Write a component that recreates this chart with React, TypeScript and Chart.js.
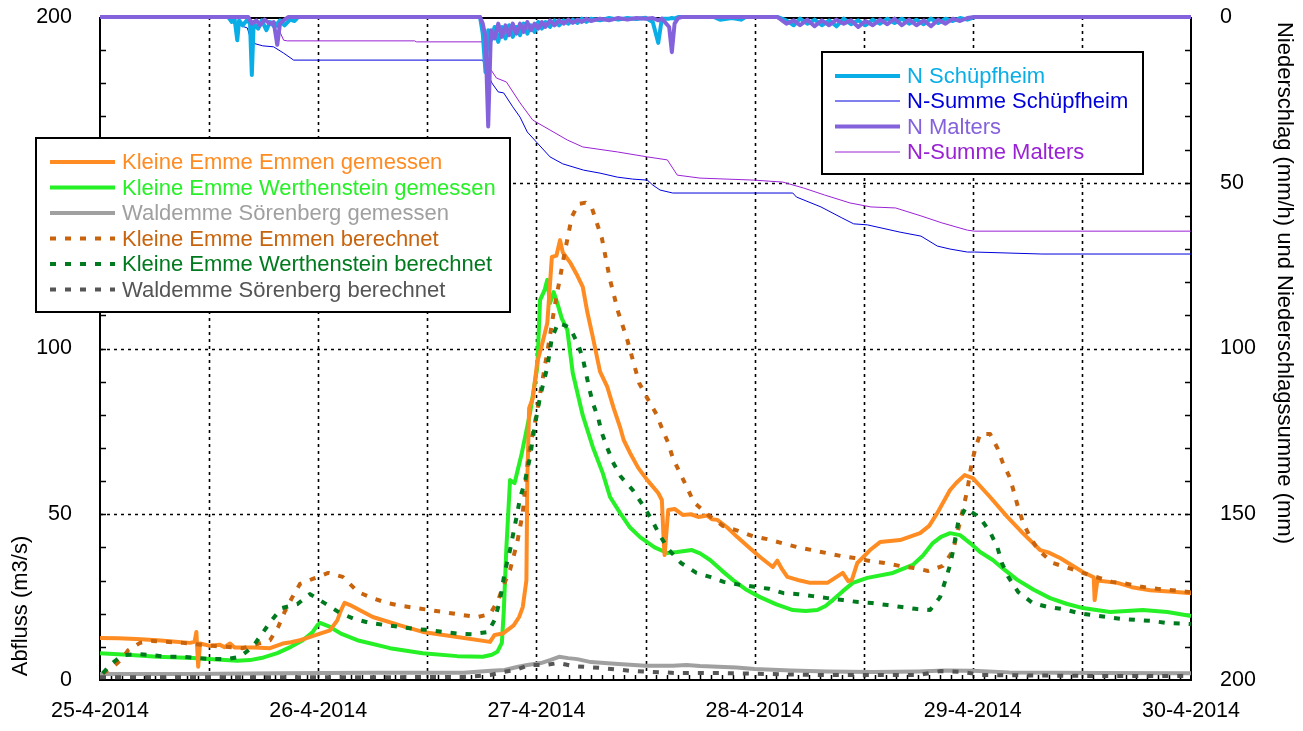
import React, { useEffect, useRef } from 'react';
import { Chart, registerables } from 'chart.js';

Chart.register(...registerables);

// ---------- data (x = hours since 25-4-2014 00:00) ----------
const dayLabels = ['25-4-2014', '26-4-2014', '27-4-2014', '28-4-2014', '29-4-2014', '30-4-2014'];

const emmenGemessen: number[][] = [
  [0, 12.7], [2, 12.6], [4, 12.4], [6.3, 12], [8, 11.6], [9.9, 11.2], [10.4, 11.5], [10.6, 14.5], [10.8, 4], [11, 11],
  [12.1, 10.3], [13.2, 10.6], [13.7, 9.9], [14.3, 11], [14.8, 9.8], [17, 9.8], [18.7, 9.6], [20.1, 11], [21, 11.4], [22, 12],
  [22.8, 12.7], [24.2, 14], [25.3, 15], [26.1, 18], [26.5, 21], [26.9, 23.3], [27.5, 22.6], [30, 19], [33, 16.5], [35.5, 14.5],
  [39.3, 13], [42.9, 11.5], [43.4, 13.6], [44.3, 14], [45.5, 16.5], [46.1, 19], [46.5, 22], [46.9, 30], [47.0, 60], [47.2, 82],
  [47.6, 85], [48.1, 96], [48.6, 101], [49.2, 107.7], [49.7, 127.6], [50.2, 128], [50.6, 132.7], [50.9, 129], [51.7, 126], [52.5, 122],
  [53.1, 118.6], [53.6, 111], [54.2, 103.5], [55, 93], [55.8, 88.4], [56.5, 82], [57.2, 76.3], [57.6, 72.4], [58.3, 68.5], [59.2, 64],
  [60.2, 60.3], [61.4, 56.4], [61.8, 54.3], [62.0, 42], [62.1, 37.7], [62.5, 51.3], [63.2, 51.6], [64.1, 49.8], [65, 50], [65.8, 49.2],
  [66.8, 49.6], [67.3, 48.5], [67.9, 48.3], [69, 46], [70.1, 43.1], [71.3, 40.2], [72.6, 37.1], [74, 34.1], [74.5, 36], [75, 33.5],
  [75.6, 31.1], [77, 30], [78.1, 29.3], [80, 29.3], [81.7, 32.3], [82.3, 29.8], [82.7, 30.2], [83.3, 35.3], [84.7, 39.2], [85.8, 41.6],
  [88, 42.2], [90.2, 44.3], [91.2, 46.5], [92.1, 50.4], [93.5, 57.3], [94.2, 59.5], [95.1, 61.8], [96, 60.9], [97.9, 55.2], [99.8, 49.2],
  [101.5, 44.3], [103.4, 39.2], [104.3, 38.5], [105.6, 36.8], [108.1, 32.6], [109.3, 31], [109.4, 24.1], [109.7, 30], [111.9, 29.3], [113.5, 28],
  [115.5, 27.1], [118, 26.6], [120, 26.2],
];

const werthensteinGemessen: number[][] = [
  [0, 8.1], [3, 7.6], [6.3, 7], [10.2, 6.6], [15.1, 5.8], [16.5, 6], [18, 6.8], [19.5, 8.1], [21, 10], [22.3, 12],
  [23.4, 14.5], [23.9, 16.5], [24.2, 17.2], [25.3, 16], [26.5, 14], [28.3, 12], [31.9, 9.6], [35.5, 8.1], [39.3, 7.2], [42.1, 7],
  [43.1, 7.6], [43.7, 8.5], [44.2, 11.2], [44.4, 20], [44.7, 40], [45.1, 60.3], [45.6, 59.4], [46.4, 68.5], [47.3, 80.5], [48.1, 94.4],
  [48.4, 114.6], [48.9, 117.6], [49.2, 120.7], [49.5, 113.7], [49.9, 117], [50.3, 113.7], [50.8, 109], [51.4, 105.6], [52, 92.6], [53.1, 79.8],
  [54.2, 70.3], [55.3, 62.4], [56.1, 55.2], [57.2, 50.4], [58.3, 46], [59.4, 43.1], [61, 40], [62.4, 38.3], [63.5, 38.6], [65.1, 39.2],
  [66, 38.2], [67.1, 36.2], [68.4, 33], [69.6, 30.2], [71, 27.4], [72.6, 25], [74.4, 22.8], [76.2, 21.1], [77.6, 20.8], [78.9, 21.1],
  [79.8, 22.3], [80.6, 24.1], [81.7, 26.8], [82.8, 29.3], [84.4, 30.8], [87.2, 32.3], [89.4, 34.7], [90.5, 37.5], [91.6, 41.3], [92.5, 43.2],
  [93.5, 44.3], [94.6, 43.7], [95.7, 41.3], [96.8, 38.6], [98.2, 36.2], [99.5, 33.2], [100.9, 30.2], [102.7, 27.2], [104.5, 24.7], [106.3, 23],
  [108.1, 21.7], [111.1, 20.5], [114.7, 21.1], [117.4, 20.5], [120, 19.3],
];

const soerenbergGemessen: number[][] = [
  [0, 1.8], [10, 1.8], [20, 2], [30, 2.2], [40, 2.2], [43, 2.8], [44.5, 3], [46, 4], [47, 4.5], [48.5, 5.1],
  [49.5, 6], [50.5, 7], [51.5, 6.6], [52.5, 6.3], [54, 5.4], [57, 4.8], [60, 4.3], [63, 4.3], [64.5, 4.5], [66, 4.2],
  [70, 3.8], [72, 3.3], [76, 2.9], [80, 2.6], [85, 2.4], [90, 2.6], [93, 2.9], [96, 2.8], [100, 2.3], [110, 2.1], [120, 2.0],
];

const emmenBerechnet: number[][] = [
  [0.3, 2], [1.3, 3.6], [2.5, 6.6], [3.1, 9], [4.4, 11.2], [5.8, 11.8], [9.1, 11.2], [12.4, 10.3], [15.7, 9.6], [18.7, 12],
  [19.6, 16], [20.3, 20.5], [21.1, 24.7], [22, 29], [23.4, 30.5], [25.1, 32.3], [26.7, 31.1], [28.4, 26.5], [30, 24.7], [31.6, 23.2],
  [33.3, 22.3], [36.3, 21.1], [39.9, 19.6], [41.5, 19], [42.9, 19.9], [43.8, 24.1], [44.3, 28], [45.1, 33.2], [45.9, 41.6], [46.5, 50.4],
  [47.1, 67.3], [48.1, 81.4], [49.2, 98.9], [50, 112.5], [51.1, 128.8], [51.9, 139.7], [52.6, 143.6], [53.4, 144], [54.1, 142.4], [55.2, 133.3],
  [56.1, 120.7], [57, 111], [58, 102.6], [59.3, 89.6], [60.2, 85], [61.2, 80.2], [61.8, 76], [62.5, 71.5], [63, 67], [63.8, 62.4],
  [64.6, 57.9], [65.3, 53.7], [66.9, 49.8], [68.5, 46.5], [70.2, 45], [71.8, 43.4], [73.4, 42.5], [75, 41.3], [76.7, 40.1], [78.3, 39.2],
  [79.9, 38.3], [81.5, 37.4], [83, 36.8], [84.7, 35.9], [86.3, 35.3], [88, 34.4], [89.5, 33.8], [91.1, 32.9], [92.7, 34.4], [93.8, 38.9],
  [94.6, 47.7], [95.4, 57.3], [95.9, 65.8], [96.3, 70], [96.8, 74.2], [97.9, 74.2], [98.7, 70], [99.3, 65.5], [100.1, 60.9], [101, 51.9],
  [101.5, 47.7], [102.3, 43.1], [103.2, 39.2], [104.8, 35.3], [106.5, 33.8], [108.1, 32.3], [111.3, 29.6], [113, 29], [114.6, 28.1], [116.3, 27.5],
  [117.9, 27.1], [120, 26.5],
];

const werthensteinBerechnet: number[][] = [
  [0.3, 2], [1.3, 5], [2.5, 7.5], [4.1, 7.8], [5.7, 7.5], [7.4, 7], [9, 7], [10.7, 6.6], [12.3, 6.3], [14, 6.3],
  [15.4, 7], [16.8, 10], [17.8, 13.9], [18.9, 18.1], [20, 21.7], [21.7, 22.9], [23.1, 25.9], [24.7, 23.2], [26.4, 20.2], [28, 18.4],
  [29.7, 17.2], [31.3, 16.6], [33, 16], [34.6, 15.4], [36.1, 15.1], [37.7, 14.5], [39.4, 14], [41, 13.8], [42.7, 14.5], [43.4, 18.1],
  [44, 24.1], [44.5, 32.3], [45.1, 39.2], [45.9, 50.4], [46.2, 54.9], [46.7, 59.4], [47.3, 67.3], [47.8, 76.3], [48.4, 85.4], [49.2, 94.4],
  [49.7, 103.2], [50.4, 107.7], [51.1, 107], [51.7, 106.2], [52.6, 101.1], [53.1, 97.1], [53.8, 88.1], [54.2, 83.6], [54.8, 79], [55.2, 74.5],
  [55.8, 70], [56.4, 65.8], [57.3, 61.3], [58.6, 57.3], [59.7, 52.8], [60.7, 48.3], [61.5, 44], [62.5, 39.5], [63.9, 35.3], [65.6, 32.3],
  [67.1, 31.1], [68.6, 29.6], [70.4, 28.7], [72, 28.1], [73.6, 27.5], [75.2, 26.2], [76.8, 25.9], [78.4, 25.3], [80, 24.7], [81.7, 24.1],
  [83.4, 23.5], [84.9, 23.2], [86.6, 22.6], [88.2, 22], [89.9, 21.4], [91.3, 21.1], [92.4, 25], [93, 30.2], [93.5, 34.7], [93.8, 38.6],
  [94.4, 47.7], [95.2, 51.9], [96.8, 48.9], [97.9, 44.6], [98.7, 40.1], [99.2, 35.3], [99.9, 31.1], [101, 26.5], [102.6, 23.2], [104.3, 22],
  [105.9, 21.4], [107.6, 20.2], [109.1, 19.6], [110.8, 19], [112.4, 18.4], [114.1, 18.1], [115.7, 17.8], [117.4, 17.2], [120, 16.9],
];

const soerenbergBerechnet: number[][] = [
  [0, 0.8], [20, 0.8], [40, 0.9], [42.9, 1.5], [44.3, 2.4], [45.7, 3], [47.2, 4.5], [48.9, 4.5], [50.4, 5.1], [52.1, 4.2],
  [55.2, 3.6], [58.6, 2.7], [63.5, 2.1], [68.2, 2.1], [73.7, 1.8], [79.2, 1.5], [90, 1.5], [92.5, 2.7], [95, 2.4], [97, 1.5],
  [110, 1.2], [120, 1.2],
];

// precipitation (mm/h)
const nSchuepfheim: number[][] = [
  [0, 0], [14.1, 0], [14.5, 1.5], [14.8, 0.5], [15.1, 7], [15.3, 1], [15.7, 2.5], [16.2, 0.8], [16.5, 2], [16.7, 17.5],
  [16.9, 2], [17.4, 3.5], [17.8, 1], [18.3, 4], [18.7, 1.5], [19.2, 3], [19.8, 1], [20.3, 2.5], [20.9, 0.8], [21.4, 1.2],
  [21.8, 0], [41.8, 0], [42.1, 5], [42.4, 16.6], [42.7, 4], [43.0, 7], [43.4, 3], [43.8, 7.5], [44.2, 3], [44.6, 6.5],
  [45.0, 2.5], [45.4, 6], [45.8, 3], [46.2, 5.5], [46.6, 2], [47.0, 5], [47.4, 2.5], [47.8, 4.5], [48.2, 1.5], [48.6, 3.5],
  [49.0, 1.5], [49.5, 3], [50.0, 1], [50.5, 2.5], [51.0, 1], [51.5, 2], [52.0, 0.8], [52.5, 1.8], [53.0, 0.5], [53.5, 1.5],
  [54.0, 0.5], [55.0, 1], [56.0, 0.3], [57.0, 0.8], [58.0, 0.3], [59.0, 0.6], [60.0, 0.2], [60.8, 1.5], [61.4, 7.8], [61.8, 0.5],
  [62.6, 0.5], [62.9, 0.3], [63.2, 0.5], [63.6, 0], [67.5, 0], [68.2, 0.8], [69.5, 0.3], [70.5, 0.8], [71, 0], [74.5, 0],
  [75.5, 1], [76.3, 2.5], [77.0, 0.5], [77.8, 2], [78.6, 0.8], [79.4, 2.5], [80.2, 1], [81.0, 2.8], [81.8, 0.5], [82.6, 2.2],
  [83.4, 1], [84.2, 2.5], [85.0, 0.8], [85.8, 2], [86.6, 0.5], [87.4, 1.8], [88.2, 0.5], [89.0, 2], [89.8, 0.8], [90.6, 2.2],
  [91.4, 0.5], [92.2, 1.8], [93.0, 0.5], [93.8, 1.2], [94.6, 0.3], [95.4, 0.8], [96.2, 0], [120, 0],
];

const summeSchuepfheim: number[][] = [
  [0, 0], [14.2, 0], [14.6, 1.8], [16.2, 3.3], [16.7, 7.8], [17.9, 8.7], [19.1, 9], [20.2, 10.9], [21.3, 13], [42.1, 13],
  [42.5, 16], [43.1, 19.9], [43.8, 22.6], [44.4, 22.9], [45.4, 27.1], [46.2, 30.2], [47.0, 34.7], [48.1, 38], [49.5, 42.2], [50.9, 44.3],
  [53.2, 46.2], [55.0, 47.1], [56.9, 48.3], [58.6, 48.9], [60.2, 49.2], [60.8, 50.7], [61.6, 52.2], [63.0, 53.1], [76.2, 53.1], [76.6, 54.3],
  [79.3, 57.3], [81.6, 60.6], [82.9, 62.4], [84.4, 62.7], [88, 64.9], [90.3, 66.1], [92.1, 69.1], [93.5, 70], [95.4, 70.9], [96.2, 70.9],
  [103.6, 71.5], [120, 71.5],
];

const nMalters: number[][] = [
  [0, 0], [16.3, 0], [16.7, 2], [17.2, 1], [17.6, 2.5], [18.1, 0.8], [18.7, 2], [19.1, 1.5], [19.5, 8.4], [19.8, 2],
  [20.2, 1], [20.7, 0], [41.8, 0], [42.1, 2], [42.4, 6], [42.7, 33], [43.0, 4], [43.4, 6.5], [43.8, 2], [44.2, 6],
  [44.6, 2.5], [45.0, 5.5], [45.4, 2], [45.8, 5], [46.2, 2], [46.6, 4.5], [47.0, 1.5], [47.4, 4], [47.8, 2], [48.2, 3.5],
  [48.6, 1.5], [49.0, 3], [49.5, 1], [50.0, 2.5], [50.5, 1], [51.0, 2], [51.5, 0.8], [52.0, 1.8], [52.5, 0.8], [53.0, 1.5],
  [53.5, 0.5], [54.0, 1.2], [55.0, 0.5], [56.0, 1], [57.0, 0.3], [58.0, 0.8], [59.0, 0.3], [60.0, 0.5], [60.8, 0.3], [61.4, 1],
  [61.8, 0.5], [62.6, 3], [62.9, 10.6], [63.2, 2], [63.6, 0.3], [64, 0], [74.5, 0], [75.5, 2], [76.3, 1], [77.0, 2.5],
  [77.8, 0.8], [78.6, 2.8], [79.4, 1], [80.2, 2.5], [81.0, 0.8], [81.8, 2], [82.6, 1], [83.4, 3], [84.2, 1.2], [85.0, 2.5],
  [85.8, 0.8], [86.6, 2.2], [87.4, 0.5], [88.2, 2.5], [89.0, 0.8], [89.8, 2.5], [90.6, 1], [91.4, 2.8], [92.2, 0.8], [93.0, 2],
  [93.8, 0.5], [94.6, 1.2], [95.4, 0.3], [96.2, 0], [120, 0],
];

const summeMalters: number[][] = [
  [0, 0], [16.3, 0], [16.8, 1.2], [19.3, 1.5], [20.2, 7], [20.6, 7.2], [34.6, 7.2], [34.8, 7.5], [42.2, 7.5], [42.5, 10],
  [42.8, 15.1], [43.6, 18.4], [44.7, 19.6], [46.2, 25.9], [47.6, 31.1], [49.5, 34.1], [51.4, 37.1], [53.1, 39.2], [56.9, 40.7], [60.2, 42.2],
  [62.4, 43.1], [63.5, 47.7], [66, 48.6], [71.9, 49.2], [75.1, 49.8], [77.4, 51.6], [79.7, 53.7], [82.5, 56.1], [84.8, 57.3], [87.5, 57.6],
  [90.3, 60], [92.6, 62.1], [95.4, 64.3], [96.2, 64.6], [120, 64.6],
];

const legendLeft = [
  'Kleine Emme Emmen gemessen',
  'Kleine Emme Werthenstein gemessen',
  'Waldemme Sörenberg gemessen',
  'Kleine Emme Emmen berechnet',
  'Kleine Emme Werthenstein berechnet',
  'Waldemme Sörenberg berechnet',
];
const legendRight = ['N Schüpfheim', 'N-Summe Schüpfheim', 'N Malters', 'N-Summe Malters'];

const FONT = '"Liberation Sans", Arial, Helvetica, sans-serif';

const pts = (a: number[][]) => a.map(([x, y]) => ({ x, y }));

const overlayPlugin = {
  id: 'overlay',
  beforeDatasetsDraw(chart: any) {
    const { ctx, chartArea, scales } = chart;
    const { left, right, top, bottom } = chartArea;
    const xs = scales.x, ys = scales.y, y2 = scales.y2;
    ctx.save();
    ctx.strokeStyle = '#000';
    ctx.lineWidth = 1.6;
    ctx.setLineDash([3, 4]);
    for (let h = 12; h < 120; h += 12) {
      const px = Math.round(xs.getPixelForValue(h)) + 0.5;
      ctx.beginPath(); ctx.moveTo(px, top); ctx.lineTo(px, bottom); ctx.stroke();
    }
    for (const v of [50, 100, 150]) {
      const py = Math.round(ys.getPixelForValue(v)) + 0.5;
      ctx.beginPath(); ctx.moveTo(left, py); ctx.lineTo(right, py); ctx.stroke();
    }
    ctx.setLineDash([]);
    ctx.lineWidth = 1.5;
    for (let v = 10; v < 200; v += 10) {
      const py = Math.round(ys.getPixelForValue(v)) + 0.5;
      ctx.beginPath(); ctx.moveTo(left, py); ctx.lineTo(left + 6, py); ctx.stroke();
      const py2 = Math.round(y2.getPixelForValue(v)) + 0.5;
      ctx.beginPath(); ctx.moveTo(right, py2); ctx.lineTo(right - 6, py2); ctx.stroke();
    }
    for (let i = 1; i < 100; i++) {
      const px = Math.round(xs.getPixelForValue(i * 1.2)) + 0.5;
      ctx.beginPath(); ctx.moveTo(px, bottom); ctx.lineTo(px, bottom - 5); ctx.stroke();
    }
    ctx.lineWidth = 2;
    ctx.strokeRect(left, top + 1, right - left, bottom - top - 1);
    ctx.restore();
  },
  afterDraw(chart: any) {
    const { ctx } = chart;
    const find = (label: string) => chart.data.datasets.find((d: any) => d.label === label);
    const drawLegend = (labels: string[], box: number[], sx0: number, sx1: number, tx: number, ys: number[]) => {
      ctx.save();
      ctx.fillStyle = '#fff';
      ctx.fillRect(box[0], box[1], box[2] - box[0], box[3] - box[1]);
      ctx.strokeStyle = '#000';
      ctx.lineWidth = 2;
      ctx.strokeRect(box[0], box[1], box[2] - box[0], box[3] - box[1]);
      labels.forEach((lab, i) => {
        const ds = find(lab);
        const y = ys[i];
        ctx.strokeStyle = ds.borderColor;
        ctx.lineWidth = ds.borderWidth;
        ctx.setLineDash(ds.borderDash || []);
        ctx.beginPath(); ctx.moveTo(sx0, y); ctx.lineTo(sx1, y); ctx.stroke();
        ctx.setLineDash([]);
        ctx.fillStyle = ds.borderColor;
        ctx.font = `22px ${FONT}`;
        ctx.textBaseline = 'middle';
        ctx.textAlign = 'left';
        ctx.fillText(lab, tx, y + 1);
      });
      ctx.restore();
    };
    drawLegend(legendLeft, [36, 138, 510, 312], 50, 115, 122, [162, 187.5, 213, 238.5, 264, 289.5]);
    drawLegend(legendRight, [822, 52, 1143, 174], 835, 900, 907, [76, 101, 126.5, 152]);

    ctx.save();
    ctx.fillStyle = '#000';
    ctx.font = `22px ${FONT}`;
    ctx.textAlign = 'center';
    ctx.textBaseline = 'middle';
    ctx.translate(21, 606);
    ctx.rotate(-Math.PI / 2);
    ctx.fillText('Abfluss (m3/s)', 0, 0);
    ctx.restore();

    ctx.save();
    ctx.fillStyle = '#000';
    ctx.font = `22px ${FONT}`;
    ctx.textAlign = 'center';
    ctx.textBaseline = 'middle';
    ctx.translate(1284, 283);
    ctx.rotate(Math.PI / 2);
    ctx.fillText('Niederschlag (mm/h) und Niederschlagssumme (mm)', 0, 0);
    ctx.restore();
  },
};

const noPad = (s: any) => { s.paddingTop = 0; s.paddingBottom = 0; s.paddingLeft = 0; s.paddingRight = 0; };

export default function App() {
  const ref = useRef<HTMLCanvasElement | null>(null);
  useEffect(() => {
    if (!ref.current) return;
    const line = (label: string, data: number[][], color: string, width: number, order: number, axis: string, dash?: number[]) => ({
      label,
      data: pts(data),
      borderColor: color,
      backgroundColor: color,
      borderWidth: width,
      borderDash: dash || [],
      borderJoinStyle: 'round',
      borderCapStyle: 'butt',
      pointRadius: 0,
      tension: 0,
      fill: false,
      order,
      yAxisID: axis,
      clip: axis === 'y2' ? false : 2,
    });
    const chart = new Chart(ref.current, {
      type: 'line',
      data: {
        datasets: [
          line('N Malters', nMalters, '#8462dc', 4, 0, 'y2'),
          line('N Schüpfheim', nSchuepfheim, '#0aaee6', 4, 1, 'y2'),
          line('N-Summe Malters', summeMalters, '#9a22d4', 1, 2, 'y2'),
          line('N-Summe Schüpfheim', summeSchuepfheim, '#0000dc', 1, 3, 'y2'),
          line('Waldemme Sörenberg berechnet', soerenbergBerechnet, '#555555', 4, 4, 'y', [6, 9]),
          line('Kleine Emme Werthenstein berechnet', werthensteinBerechnet, '#007a1e', 4, 5, 'y', [6, 9]),
          line('Kleine Emme Emmen berechnet', emmenBerechnet, '#c8640e', 4, 6, 'y', [6, 9]),
          line('Waldemme Sörenberg gemessen', soerenbergGemessen, '#a0a0a0', 4, 7, 'y'),
          line('Kleine Emme Emmen gemessen', emmenGemessen, '#ff8c22', 4, 8, 'y'),
          line('Kleine Emme Werthenstein gemessen', werthensteinGemessen, '#26f026', 4, 9, 'y'),
        ] as any,
      },
      options: {
        responsive: false,
        animation: false,
        devicePixelRatio: 1,
        layout: { padding: { top: 17, left: 0, right: 0, bottom: 0 } },
        plugins: { legend: { display: false }, tooltip: { enabled: false } },
        scales: {
          x: {
            type: 'linear',
            min: 0,
            max: 120,
            grid: { display: false, drawTicks: false },
            border: { display: false },
            ticks: {
              stepSize: 24,
              autoSkip: false,
              maxRotation: 0,
              padding: 18,
              color: '#000',
              font: { family: FONT, size: 21.5 },
              callback: (v: any) => dayLabels[Math.round(Number(v) / 24)] ?? '',
            },
            afterFit: (s: any) => { noPad(s); s.height = 51; },
          },
          y: {
            type: 'linear',
            position: 'left',
            min: 0,
            max: 200,
            grid: { display: false, drawTicks: false },
            border: { display: false },
            ticks: { stepSize: 50, padding: 28, color: '#000', font: { family: FONT, size: 21.5 } },
            afterFit: (s: any) => { noPad(s); s.width = 100; },
          },
          y2: {
            type: 'linear',
            position: 'right',
            min: 0,
            max: 200,
            reverse: true,
            grid: { display: false, drawTicks: false },
            border: { display: false },
            ticks: { stepSize: 50, padding: 29, color: '#000', font: { family: FONT, size: 21.5 } },
            afterFit: (s: any) => { noPad(s); s.width = 112; },
          },
        },
      } as any,
      plugins: [overlayPlugin],
    });
    return () => chart.destroy();
  }, []);
  return (
    <div style={{ position: 'fixed', left: 0, top: 0, width: 1303, height: 731, background: '#fff' }}>
      <canvas ref={ref} width={1303} height={731} style={{ display: 'block', width: 1303, height: 731 }} />
    </div>
  );
}
